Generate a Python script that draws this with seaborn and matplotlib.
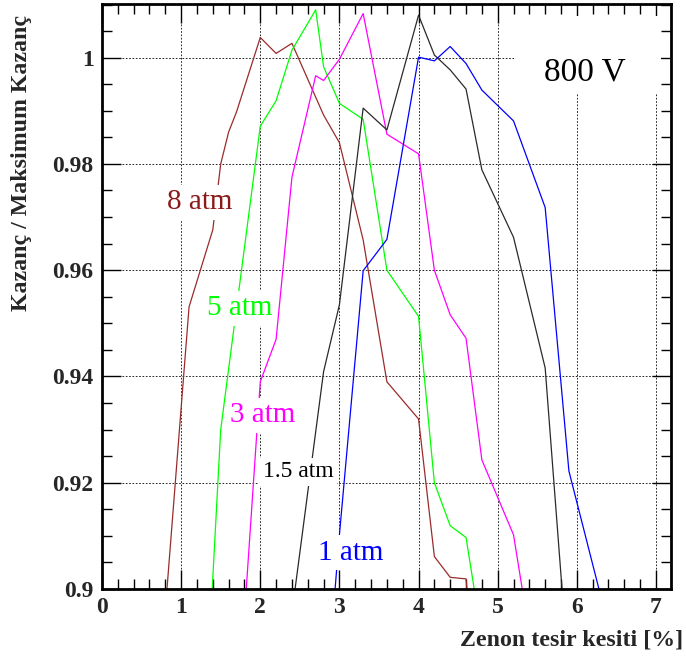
import matplotlib
matplotlib.use("Agg")
import matplotlib.pyplot as plt
import seaborn as sns
import pandas as pd
from matplotlib.ticker import MultipleLocator, FuncFormatter
from matplotlib.patches import Rectangle

# ---- data ----
x_8atm = [0.8, 1.1, 1.4, 1.5, 1.6, 1.7, 2.0, 2.2, 2.4, 2.8, 3.0, 3.3, 3.6, 4.0, 4.2, 4.4, 4.6, 4.62]
y_8atm = [0.896, 0.9531, 0.9676, 0.980, 0.986, 0.9898, 1.0038, 1.0008, 1.0027, 0.9892, 0.9840,
          0.9657, 0.9390, 0.9320, 0.9061, 0.9022, 0.9019, 0.8985]

x_5atm = [1.38, 1.5, 2.0, 2.2, 2.4, 2.7, 2.8, 3.0, 3.3, 3.6, 4.0, 4.2, 4.4, 4.6, 4.75]
y_5atm = [0.8965, 0.930, 0.9871, 0.9919, 1.0014, 1.0090, 0.9983, 0.9914, 0.9884, 0.9600,
          0.9513, 0.9200, 0.9119, 0.9097, 0.8956]

x_3atm = [1.8, 2.0, 2.2, 2.4, 2.7, 2.8, 3.0, 3.3, 3.6, 4.0, 4.2, 4.4, 4.6, 4.8, 5.2, 5.4]
y_3atm = [0.895, 0.939, 0.947, 0.9775, 0.9966, 0.9957, 0.9997, 1.0083, 0.9856, 0.9819,
          0.9600, 0.9516, 0.9472, 0.9243, 0.9102, 0.8917]

x_15atm = [2.4, 2.8, 3.0, 3.3, 3.6, 4.0, 4.2, 4.4, 4.6, 4.8, 5.2, 5.6, 5.85]
y_15atm = [0.8955, 0.9409, 0.9535, 0.9905, 0.9864, 1.0080, 1.0005, 0.9977, 0.9941, 0.9789,
           0.9662, 0.9416, 0.8928]

x_1atm = [2.9, 3.0, 3.3, 3.6, 4.0, 4.2, 4.4, 4.6, 4.8, 5.2, 5.6, 5.9, 6.3]
y_1atm = [0.8915, 0.9102, 0.9599, 0.9658, 1.0001, 0.9994, 1.0021, 0.9989, 0.9939, 0.9881,
          0.9718, 0.9222, 0.8988]

series = [
    ("8 atm", x_8atm, y_8atm, "#9a2b2b"),
    ("5 atm", x_5atm, y_5atm, "#00ff00"),
    ("3 atm", x_3atm, y_3atm, "#ff00ff"),
    ("1.5 atm", x_15atm, y_15atm, "#2a2a2a"),
    ("1 atm", x_1atm, y_1atm, "#0000ff"),
]

x_ticks = [0, 1, 2, 3, 4, 5, 6, 7]
y_ticks = [0.9, 0.92, 0.94, 0.96, 0.98, 1.0]

sns.set_style("ticks")
plt.rcParams['font.family'] = ['Liberation Serif', 'DejaVu Serif']

W, H = 686, 664
fig = plt.figure(figsize=(W / 100, H / 100), dpi=100)
ax = fig.add_axes([102 / W, 1 - 589 / H, (671 - 102) / W, (589 - 4) / H])

for name, xs, ys, col in series:
    df = pd.DataFrame({"x": xs, "y": ys})
    sns.lineplot(data=df, x="x", y="y", color=col, lw=0.9, ax=ax,
                 sort=False, estimator=None, zorder=2)

ax.set_xlim(0, 7.19)
ax.set_ylim(0.9, 1.0101)
ax.set_xticks(x_ticks)
ax.set_yticks(y_ticks)
ax.xaxis.set_minor_locator(MultipleLocator(0.2))
ax.yaxis.set_minor_locator(MultipleLocator(0.005))
ax.xaxis.set_major_formatter(FuncFormatter(lambda v, p: "%g" % v))
ax.yaxis.set_major_formatter(FuncFormatter(lambda v, p: "%g" % round(v, 3)))
ax.tick_params(which='both', direction='in', top=True, right=True, width=1.0, color='black')
ax.tick_params(which='major', length=14)
ax.tick_params(which='minor', length=7)
ax.tick_params(axis='x', which='major', pad=6, labelsize=17)
ax.tick_params(axis='y', which='major', pad=6, labelsize=17)
for lab in ax.get_xticklabels() + ax.get_yticklabels():
    lab.set_fontweight('bold')
ax.grid(True, which='major', linestyle=(0, (2, 2)), color='black', lw=0.6)
ax.set_axisbelow(True)
for s in ax.spines.values():
    s.set_linewidth(2)
    s.set_color('black')
ax.set_xlabel("")
ax.set_ylabel("")

# white box behind "800 V"
ax.add_patch(Rectangle((5.2, 0.99335), 1.86, 0.0145, facecolor='white', edgecolor='none', zorder=4))
ax.text(6.096, 0.9973, "800 V", fontsize=24, ha='center', va='center', color='black', zorder=6)

labels = [
    ("8 atm", 1.229, 0.9728, "#8b1a1a", 21),
    ("5 atm", 1.734, 0.9528, "#00ff00", 21),
    ("3 atm", 2.03, 0.9327, "#ff00ff", 21),
    ("1.5 atm", 2.48, 0.9221, "black", 17),
    ("1 atm", 3.144, 0.9068, "#0000ff", 21),
]
for t, lx, ly, c, fs in labels:
    ax.text(lx, ly, t, fontsize=fs, color=c, ha='center', va='center', zorder=6,
            bbox=dict(boxstyle='square,pad=0.15', facecolor='white', edgecolor='none'))

fig.text(22 / W, 1 - 15 / H, "Kazanç / Maksimum Kazanç", rotation=90, ha='center', va='top',
         fontsize=17.2, fontweight='bold')
fig.text(683 / W, 1 - 640 / H, "Zenon tesir kesiti [%]", ha='right', va='center',
         fontsize=17.2, fontweight='bold')

fig.savefig("out.png", dpi=100, facecolor='white')
